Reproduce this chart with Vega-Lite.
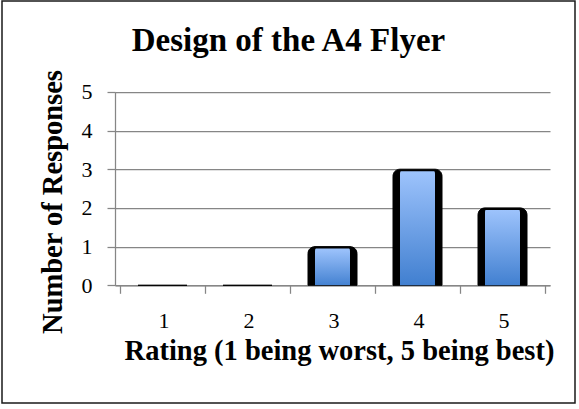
{
  "$schema": "https://vega.github.io/schema/vega-lite/v6.json",
  "width": 573,
  "height": 402,
  "autosize": "none",
  "padding": {"left": 2, "top": 1, "right": 4, "bottom": 6},
  "background": "white",
  "title": {
    "text": "Design of the A4 Flyer",
    "font": "Liberation Serif",
    "fontSize": 33,
    "fontWeight": "bold",
    "color": "black",
    "anchor": "middle",
    "frame": "group",
    "orient": "top",
    "offset": -31,
    "baseline": "alphabetic",
    "dy": 52
  },
  "data": {
    "values": [
      {"rating": 1, "count": 0},
      {"rating": 2, "count": 0},
      {"rating": 3, "count": 1},
      {"rating": 4, "count": 3},
      {"rating": 5, "count": 2}
    ]
  },
  "encoding": {
    "x": {
      "field": "rating",
      "type": "quantitative",
      "scale": {"domain": [0.5, 5.5], "range": [113, 548], "nice": false, "zero": false},
      "axis": {
        "values": [0.5, 1.5, 2.5, 3.5, 4.5, 5.5],
        "labelExpr": "datum.value < 5 ? format(datum.value + 0.5, 'd') : ''",
        "labelOffset": 43.5,
        "labelFlush": false,
        "labelOverlap": false,
        "labelBound": false,
        "tickSize": 8,
        "tickColor": "#868686",
        "tickWidth": 1.25,
        "domainColor": "#868686",
        "domainWidth": 1.25,
        "grid": false,
        "offset": -117.7,
        "labelFont": "Liberation Serif",
        "labelFontSize": 22,
        "labelColor": "black",
        "labelBaseline": "alphabetic",
        "labelPadding": 34,
        "title": "Rating (1 being worst, 5 being best)",
        "titleFont": "Liberation Serif",
        "titleFontSize": 28.5,
        "titleFontWeight": "bold",
        "titleColor": "black",
        "titleX": 337,
        "titleY": 74,
        "titleBaseline": "alphabetic"
      }
    },
    "y": {
      "field": "count",
      "type": "quantitative",
      "scale": {"domain": [0, 5], "range": [284.3, 90.8], "nice": false},
      "axis": {
        "values": [0, 1, 2, 3, 4, 5],
        "format": "d",
        "tickSize": 8,
        "tickColor": "#868686",
        "tickWidth": 1.25,
        "domainColor": "#868686",
        "domainWidth": 1.25,
        "grid": true,
        "gridColor": "#868686",
        "gridWidth": 1.25,
        "offset": -113,
        "labelFont": "Liberation Serif",
        "labelFontSize": 22,
        "labelOverlap": false,
        "labelColor": "black",
        "labelPadding": 15,
        "title": "Number of Responses",
        "titleFont": "Liberation Serif",
        "titleFontSize": 28.5,
        "titleFontWeight": "bold",
        "titleColor": "black",
        "titleY": 200.5,
        "titleX": -63,
        "titleBaseline": "middle"
      }
    }
  },
  "layer": [
    {
      "mark": {
        "type": "bar",
        "color": "black",
        "size": 49,
        "cornerRadiusTopLeft": 7,
        "cornerRadiusTopRight": 7,
        "stroke": "black",
        "strokeWidth": 1
      }
    },
    {
      "transform": [{"filter": "datum.count > 0"}],
      "mark": {
        "type": "bar",
        "size": 35,
        "yOffset": 2,
        "cornerRadiusTopLeft": 4,
        "cornerRadiusTopRight": 4,
        "color": {
          "gradient": "linear",
          "x1": 0, "y1": 0, "x2": 0, "y2": 1,
          "stops": [
            {"offset": 0, "color": "#9DC3FC"},
            {"offset": 1, "color": "#3F7ECF"}
          ]
        }
      }
    }
  ],
  "config": {
    "view": {"stroke": "#1a1a1a", "strokeWidth": 1.5}
  }
}
